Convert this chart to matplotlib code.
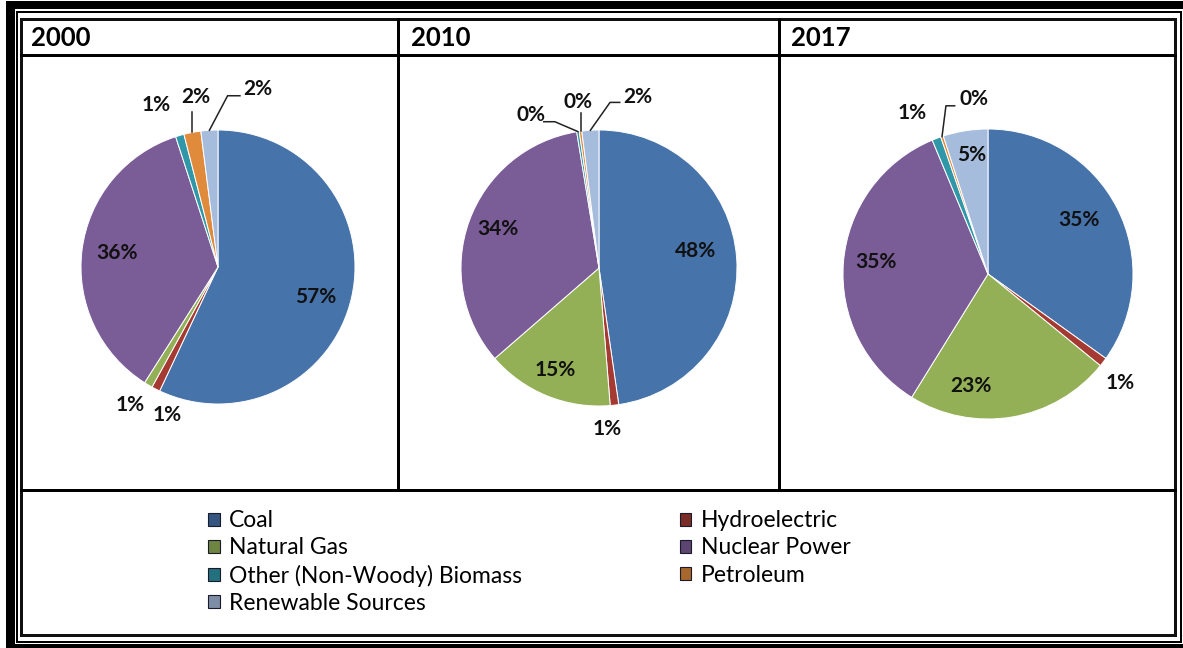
import matplotlib
matplotlib.use('Agg')
import matplotlib.pyplot as plt
from matplotlib.patches import Rectangle, Patch
from matplotlib.lines import Line2D
import matplotlib.colors as mcolors
import numpy as np

plt.rcParams['font.family'] = ['Lato', 'DejaVu Sans']

# ---- data ----
sources = ['Coal', 'Hydroelectric', 'Natural Gas', 'Nuclear Power',
           'Other (Non-Woody) Biomass', 'Petroleum', 'Renewable Sources']
years = ['2000', '2010', '2017']
share_2000 = [57, 1, 1, 36, 1, 2, 2]
share_2010 = [48, 1, 15, 34, 0.3, 0.3, 2]
share_2017 = [35, 1, 23, 35, 1, 0.3, 5]
shares = [share_2000, share_2010, share_2017]

colors = ['#4673AA', '#A53A32', '#93B056', '#7A5C97', '#2F97A8', '#E08A3C', '#A6BCDC']

# ---- layout (pixels of the 1183x648 canvas) ----
W, H = 1183, 648
centers = [(218, 267), (599, 268), (988, 274)]
radii = [137, 138, 145]
HALF = 175  # half size of each pie axes in px

# label positions in pie-radius units
label_pos = [
    [(0.71, -0.22), (-0.37, -1.08), (-0.64, -1.01), (-0.74, 0.10),
     (-0.45, 1.18), (-0.16, 1.24), (0.29, 1.30)],
    [(0.70, 0.12), (0.06, -1.17), (-0.32, -0.74), (-0.73, 0.28),
     (-0.49, 1.11), (-0.15, 1.20), (0.28, 1.24)],
    [(0.63, 0.37), (0.91, -0.75), (-0.12, -0.77), (-0.77, 0.08),
     (-0.52, 1.11), (-0.10, 1.21), (-0.11, 0.82)],
]
# leader lines: slice index -> points after the wedge edge
leaders = [
    {5: [(None, 1.13)], 6: [(0.07, 1.25), (0.16, 1.25)]},
    {4: [(-0.32, 1.06), (-0.40, 1.06)], 5: [(None, 1.12)],
     6: [(0.08, 1.20), (0.15, 1.20)]},
    {5: [(-0.29, 1.16), (-0.23, 1.16)]},
]


def fx(x):
    return x / W


def fy(y):
    return 1 - y / H


fig = plt.figure(figsize=(W / 100, H / 100), dpi=100)

# ---- frame ----
def box(x0, y0, x1, y1, **kw):
    fig.patches.append(Rectangle((fx(x0), fy(y1)), fx(x1) - fx(x0), fy(y0) - fy(y1),
                                 transform=fig.transFigure, **kw))


def line(x0, y0, x1, y1, lw=3, color='black'):
    fig.add_artist(Line2D([fx(x0), fx(x1)], [fy(y0), fy(y1)], lw=lw * 0.72,
                          color=color, transform=fig.transFigure,
                          solid_capstyle='projecting'))


box(6, 1, W, 9, facecolor='black', edgecolor='none')
box(6, 1, 15, H, facecolor='black', edgecolor='none')
box(6, 644, W, H, facecolor='black', edgecolor='none')
box(17, 12, 1181, 642, facecolor='none', edgecolor='black', lw=2 * 0.72)
box(21, 19, 1175, 635, facecolor='none', edgecolor='#111111', lw=3 * 0.72)
line(21, 55, 1175, 55)
line(21, 490, 1175, 490)
line(398, 19, 398, 490)
line(779, 19, 779, 490)

for i, yr in enumerate(years):
    fig.text(fx([31, 411, 791][i]), fy(38), yr, fontsize=18.5, fontweight='bold',
             va='center', ha='left')

# ---- pies ----
for k, vals in enumerate(shares):
    cx, cy = centers[k]
    R = radii[k]
    ax = fig.add_axes([fx(cx - HALF), fy(cy + HALF), 2 * HALF / W, 2 * HALF / H])
    lim = HALF / R
    wedges, _ = ax.pie(vals, colors=colors, startangle=90, counterclock=False,
                       wedgeprops=dict(edgecolor='white', linewidth=0.7))
    ax.set_xlim(-lim, lim)
    ax.set_ylim(-lim, lim)
    ax.set_aspect('equal')
    ax.axis('off')
    total = sum(vals)
    for i, (w, v) in enumerate(zip(wedges, vals)):
        tx, ty = label_pos[k][i]
        ax.text(tx, ty, f'{round(v / total * 100)}%', ha='center', va='center',
                fontsize=15, fontweight='bold', color='#111111')
        if i in leaders[k]:
            ang = np.deg2rad((w.theta1 + w.theta2) / 2)
            ex, ey = np.cos(ang), np.sin(ang)
            xs, ys = [ex], [ey]
            for px, py in leaders[k][i]:
                xs.append(ex if px is None else px)
                ys.append(py)
            ax.plot(xs, ys, color='#222222', lw=1.1, clip_on=False)

# ---- legend ----
order = [0, 2, 4, 6, 1, 3, 5]
handles = []
for i in order:
    c = mcolors.to_rgb(colors[i])
    dark = tuple(v * 0.75 for v in c)
    handles.append(Patch(facecolor=dark, edgecolor='#1a1a2a', lw=0.8, label=sources[i]))
fig.legend(handles=handles, ncol=2, loc='upper left',
           bbox_to_anchor=(fx(199), fy(501)), frameon=False, fontsize=16.5,
           handlelength=0.5, handleheight=0.5, handletextpad=0.4,
           columnspacing=6.9, labelspacing=0.27, borderaxespad=0)

fig.savefig('out.png', dpi=100, facecolor='white')
